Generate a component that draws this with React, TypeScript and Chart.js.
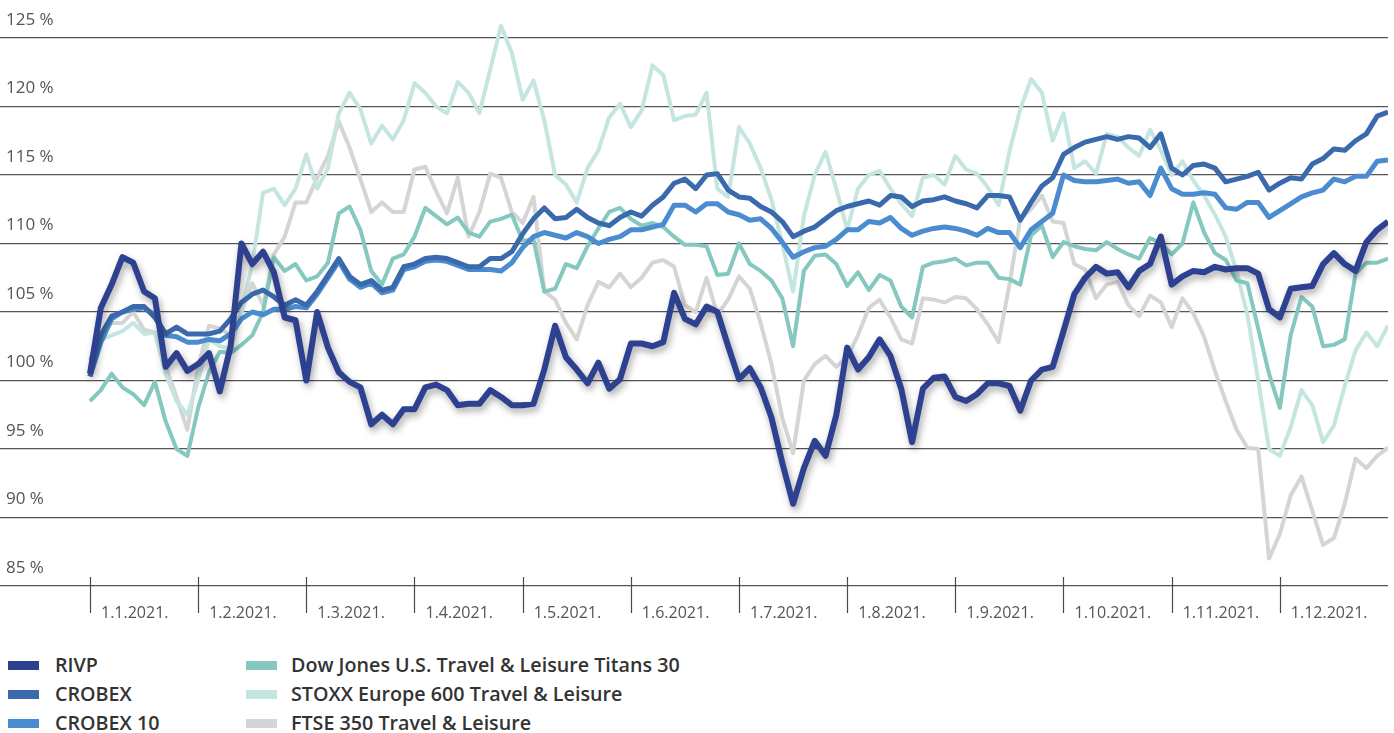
import { useEffect, useRef } from 'react';
import { Chart, registerables } from 'chart.js';

Chart.register(...registerables);

// Month labels on the time axis (each month one unit)
const monthLabels = [
  '1.1.2021.', '1.2.2021.', '1.3.2021.', '1.4.2021.', '1.5.2021.', '1.6.2021.',
  '1.7.2021.', '1.8.2021.', '1.9.2021.', '1.10.2021.', '1.11.2021.', '1.12.2021.',
];

// Sample points: every tenth of a month from 1.1.2021. (121 samples)
const SAMPLE_COUNT = 121;
const samplePositions = Array.from({ length: SAMPLE_COUNT }, (_, k) => k / 10);

const rivp = [
  100.5, 105.3, 107, 109, 108.6, 106.5, 106, 101, 102, 100.7,
  101.2, 102, 99.2, 102.5, 110, 108.5, 109.4, 107.9, 104.6, 104.4,
  100, 105, 102.4, 100.6, 99.9, 99.5, 96.8, 97.5, 96.8, 97.9,
  97.9, 99.5, 99.7, 99.3, 98.2, 98.3, 98.3, 99.3, 98.8, 98.2,
  98.2, 98.3, 100.8, 104, 101.7, 100.8, 99.8, 101.3, 99.4, 100.1,
  102.7, 102.7, 102.5, 102.8, 106.4, 104.5, 104.1, 105.4, 105, 102.5,
  100.1, 100.9, 99.5, 97.3, 94, 91, 93.6, 95.6, 94.5, 97.5,
  102.4, 100.8, 101.7, 103, 101.8, 99.4, 95.5, 99.4, 100.2, 100.3,
  98.8, 98.5, 99, 99.8, 99.8, 99.6, 97.8, 100, 100.8, 101,
  103.6, 106.3, 107.5, 108.3, 107.8, 107.9, 106.8, 108, 108.5, 110.5,
  107, 107.6, 108, 107.9, 108.3, 108.1, 108.2, 108.2, 107.8, 105.2,
  104.6, 106.7, 106.8, 106.9, 108.5, 109.3, 108.5, 108, 110.1, 111,
  111.6,
];

const crobex = [
  100.3, 103.3, 104.7, 105, 105.4, 105.4, 104.6, 103.4, 103.9, 103.4,
  103.4, 103.4, 103.6, 104.5, 105.7, 106.3, 106.6, 106.1, 105.5, 105.9,
  105.5, 106.5, 107.7, 108.9, 107.6, 107, 107.3, 106.6, 106.8, 108.3,
  108.5, 108.9, 109, 108.9, 108.6, 108.3, 108.3, 108.9, 108.9, 109.4,
  110.7, 111.8, 112.6, 111.8, 111.9, 112.5, 111.9, 111.5, 111.3, 111.9,
  112.3, 112, 112.8, 113.4, 114.4, 114.7, 114, 115, 115.1, 113.9,
  113.4, 113.3, 112.7, 112.3, 111.6, 110.5, 110.9, 111.2, 111.8, 112.4,
  112.7, 112.9, 113.1, 112.8, 113.5, 113.4, 112.7, 113.1, 113.2, 113.4,
  113.1, 112.9, 112.6, 113.5, 113.5, 113.4, 111.7, 113, 114.2, 114.8,
  116.5, 117, 117.4, 117.6, 117.8, 117.6, 117.8, 117.7, 117, 118,
  115.5, 115, 115.7, 115.8, 115.5, 114.5, 114.7, 114.9, 115.2, 113.9,
  114.4, 114.8, 114.7, 115.8, 116.2, 116.9, 116.8, 117.5, 118, 119.3,
  119.6,
];

const crobex10 = [
  100.3, 102.8, 104.5, 105, 105.2, 105.3, 104.8, 103.3, 103.2, 102.8,
  102.8, 103, 102.9, 103.4, 104.5, 105, 104.8, 105.2, 105.2, 105.4,
  105.3, 106.3, 107.5, 108.7, 107.4, 106.8, 107.1, 106.4, 106.6, 108.1,
  108.3, 108.7, 108.8, 108.7, 108.4, 108.1, 108.1, 108.1, 108, 108.6,
  109.7, 110.5, 110.8, 110.6, 110.4, 110.8, 110.5, 110, 110.3, 110.5,
  111, 111, 111.2, 111.4, 112.8, 112.8, 112.3, 112.9, 112.9, 112.3,
  112.1, 111.7, 111.8, 111.1, 110.1, 109, 109.4, 109.7, 109.8, 110.3,
  111, 111, 111.6, 111.5, 111.9, 111.1, 110.6, 110.9, 111.1, 111.2,
  111.1, 110.9, 110.6, 111.1, 110.8, 110.8, 109.7, 111, 111.6, 112.2,
  115, 114.6, 114.5, 114.5, 114.6, 114.7, 114.4, 114.5, 113.5, 115.5,
  114, 113.6, 113.6, 113.7, 113.6, 112.6, 112.5, 113, 113, 111.9,
  112.4, 112.9, 113.4, 113.7, 113.9, 114.7, 114.5, 114.9, 114.9, 116,
  116.1,
];

const dowJones = [
  98.5, 99.3, 100.5, 99.5, 99, 98.2, 99.9, 97, 95, 94.5,
  98, 100.6, 102.1, 102, 102.6, 103.3, 105, 109, 108, 108.5,
  107.3, 107.6, 108.6, 112.2, 112.7, 111, 108, 107, 108.9, 109.2,
  110.5, 112.6, 112, 111.4, 111.9, 110.8, 110.5, 111.6, 111.8, 112.1,
  110.2, 110.3, 106.5, 106.7, 108.5, 108.2, 109.8, 111.1, 112.3, 112.6,
  111.8, 111.3, 111.5, 111.2, 110.5, 109.9, 109.9, 109.8, 107.7, 107.8,
  110, 108.5, 108, 107.3, 106, 102.5, 108, 109.1, 109.2, 108.5,
  106.9, 107.9, 106.6, 107.7, 107.3, 105.4, 104.6, 108.3, 108.6, 108.7,
  108.9, 108.4, 108.6, 108.6, 107.5, 107.4, 107, 110.6, 111.3, 109,
  110.1, 109.8, 109.6, 109.5, 110.1, 109.6, 109.2, 108.9, 110.4, 110,
  109.2, 110, 113, 110.8, 109.3, 108.8, 107.3, 107.1, 103.8, 100.5,
  98, 103.3, 106.1, 105.4, 102.5, 102.6, 103, 107.8, 108.6, 108.6,
  108.9,
];

const stoxx = [
  101.5, 103, 103.3, 103.6, 104.2, 103.4, 103.5, 100.5, 98.5, 97.5,
  100, 103, 102.5, 102.3, 105, 108.5, 113.7, 114, 112.8, 114,
  116.5, 114, 115.5, 119.5, 121, 119.8, 117.3, 118.6, 117.6, 119,
  121.7, 121, 120, 119.5, 121.8, 121, 119.5, 122.7, 125.9, 123.9,
  120.5, 121.9, 119, 115, 114.3, 113, 115.5, 116.8, 119.2, 120.2,
  118.5, 119.7, 123, 122.3, 119, 119.3, 119.4, 121, 114, 113.4,
  118.5, 117.3, 115.5, 113.2, 110, 106.5, 112, 115, 116.7, 114,
  111, 114, 115, 115.3, 114, 112.9, 112, 114.8, 115, 114.3,
  116.4, 115.4, 115.1, 114.1, 112.8, 116.7, 119.8, 122, 121, 117.5,
  119.5, 115.5, 116, 115.1, 118, 117.8, 117, 116.4, 118.3, 116.8,
  115, 116, 114.6, 113.5, 112.1, 110.5, 108, 104.8, 100, 95,
  94.5, 96.6, 99.3, 98.2, 95.5, 96.7, 99.6, 102.2, 103.5, 102.5,
  104,
];

const ftse = [
  101.5, 103.5, 104.2, 104.2, 105, 103.7, 103.5, 101, 98.8, 96.4,
  101, 104, 103.8, 103.3, 105, 107.1, 105.5, 109.2, 110.5, 113,
  113, 114.8, 116.4, 118.9, 117, 114.7, 112.3, 113, 112.3, 112.3,
  115.4, 115.6, 113.8, 112.2, 114.8, 110.5, 112.3, 115.1, 114.8, 112.3,
  111.5, 113.4, 106.5, 105.9, 104.2, 103, 105.5, 107.2, 106.8, 107.8,
  106.8, 107.5, 108.6, 108.8, 108.3, 105.5, 105, 107.5, 104.8, 105.9,
  107.6, 106.7, 104.2, 101.2, 97.3, 94.7, 100, 101.2, 101.8, 101,
  101.7, 103.3, 105.3, 105.9, 104.6, 103, 102.7, 106, 105.9, 105.7,
  106.1, 106, 105.2, 104.1, 102.8, 107, 111.8, 112.5, 113.5, 111.6,
  111.5, 108.5, 108.1, 106, 107, 107.2, 105.5, 104.7, 106.2, 105.7,
  103.9, 106, 104.9, 103.2, 100.7, 98.5, 96.4, 95.1, 95, 87,
  88.8, 91.6, 93, 90.5, 88, 88.5, 91, 94.3, 93.6, 94.5,
  95.1,
];

const seriesNames = [
  'RIVP', 'CROBEX', 'CROBEX 10',
  'Dow Jones U.S. Travel & Leisure Titans 30',
  'STOXX Europe 600 Travel & Leisure',
  'FTSE 350 Travel & Leisure',
];
const seriesValues = [rivp, crobex, crobex10, dowJones, stoxx, ftse];
const seriesColors = ['#2e4190', '#3a6aac', '#4b8bcf', '#84c8bf', '#c5e5e1', '#d5d5d5'];
const seriesWidths = [6, 5, 5, 4, 4, 4];

const Y_MIN = 85;
const Y_MAX = 127.774;
const X_MIN = -0.832;
const X_MAX = 12;

const monthTicksPlugin = {
  id: 'monthTicks',
  afterDraw(chart: any) {
    const { ctx, scales } = chart;
    const x = scales.x;
    const base = scales.y.getPixelForValue(Y_MIN);
    ctx.save();
    ctx.strokeStyle = '#4a4a4a';
    ctx.lineWidth = 1.2;
    monthLabels.forEach((_, i) => {
      const px = Math.round(x.getPixelForValue(i)) + 0.5;
      ctx.beginPath();
      ctx.moveTo(px, base - 9);
      ctx.lineTo(px, base + 27);
      ctx.stroke();
    });
    ctx.restore();
  },
};

const shadowPlugin = {
  id: 'lineShadow',
  beforeDatasetDraw(chart: any, args: any) {
    if (args.index === 0) {
      const ctx = chart.ctx;
      ctx.save();
      ctx.shadowColor = 'rgba(0,0,0,0.35)';
      ctx.shadowBlur = 7;
      ctx.shadowOffsetX = 2;
      ctx.shadowOffsetY = 4;
    }
  },
  afterDatasetDraw(chart: any, args: any) {
    if (args.index === 0) chart.ctx.restore();
  },
};

export default function App() {
  const canvasRef = useRef<HTMLCanvasElement | null>(null);

  useEffect(() => {
    if (!canvasRef.current) return;
    const datasets = seriesNames.map((name, i) => ({
      label: name,
      data: seriesValues[i].map((v, k) => ({ x: samplePositions[k], y: v })),
      borderColor: seriesColors[i],
      backgroundColor: seriesColors[i],
      borderWidth: seriesWidths[i],
      pointRadius: 0,
      tension: 0,
      fill: false,
      borderJoinStyle: 'round' as const,
    }));
    const chart = new Chart(canvasRef.current, {
      type: 'line',
      data: { datasets },
      options: {
        animation: false,
        responsive: false,
        parsing: false,
        layout: { padding: { left: 0, right: 6, top: 0, bottom: 0 } },
        plugins: { legend: { display: false }, tooltip: { enabled: false } },
        scales: {
          x: {
            type: 'linear',
            min: X_MIN,
            max: X_MAX,
            afterBuildTicks: (scale: any) => {
              scale.ticks = monthLabels.map((_, i) => ({ value: i }));
            },
            afterFit: (scale: any) => {
              scale.height = 39;
              scale.paddingLeft = 0;
              scale.paddingRight = 0;
            },
            grid: { display: false },
            border: { display: false },
            ticks: {
              autoSkip: false,
              maxRotation: 0,
              align: 'start',
              labelOffset: 11,
              padding: 10,
              color: '#555',
              font: { family: '"Open Sans", sans-serif', size: 16 },
              callback: (value: any) => monthLabels[Math.round(Number(value))] ?? '',
            },
          },
          y: {
            min: Y_MIN,
            max: Y_MAX,
            afterFit: (scale: any) => {
              scale.width = 0;
              scale.paddingTop = 0;
              scale.paddingBottom = 0;
            },
            border: { display: false },
            grid: { color: '#555', lineWidth: 1.2, drawTicks: false },
            ticks: {
              stepSize: 5,
              includeBounds: false,
              mirror: true,
              padding: 6,
              labelOffset: -18,
              color: '#555',
              font: { family: '"Open Sans", sans-serif', size: 17 },
              callback: (value: any) => `${value} %`,
            },
          },
        },
      },
      plugins: [monthTicksPlugin, shadowPlugin],
    });
    return () => chart.destroy();
  }, []);

  const legendCols = [
    { swatch: 8, text: 55 },
    { swatch: 246, text: 291 },
  ];
  const legendRows = [665, 694, 723];

  return (
    <div style={{ position: 'absolute', left: 0, top: 0, width: 1394, height: 733, background: '#fff', overflow: 'hidden' }}>
      <canvas ref={canvasRef} width={1394} height={625} style={{ display: 'block', width: 1394, height: 625 }} />
      {seriesNames.map((name, i) => {
        const col = legendCols[Math.floor(i / 3)];
        const rowY = legendRows[i % 3];
        return (
          <div key={name}>
            <div style={{ position: 'absolute', left: col.swatch, top: rowY - 4, width: 31, height: 9, background: seriesColors[i] }} />
            <div style={{
              position: 'absolute', left: col.text, top: rowY - 14, height: 28, lineHeight: '28px',
              fontFamily: '"Open Sans", sans-serif', fontWeight: 600, fontSize: 19.7, color: '#333', whiteSpace: 'nowrap',
            }}>{name}</div>
          </div>
        );
      })}
    </div>
  );
}
